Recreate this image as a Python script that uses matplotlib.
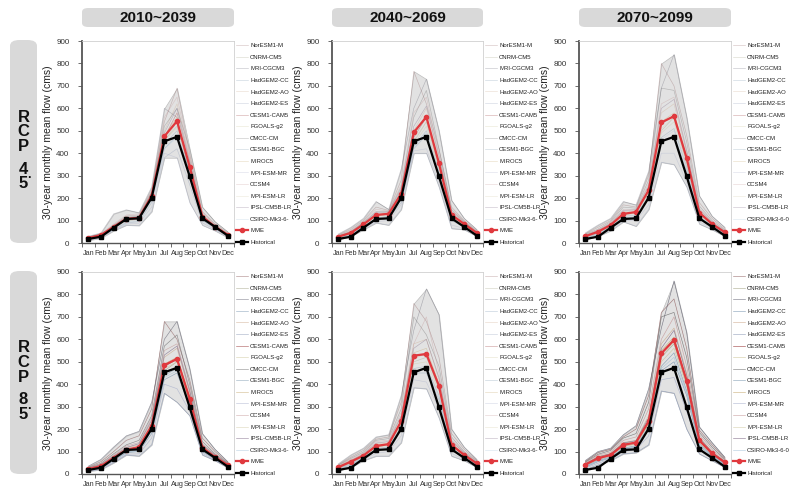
import numpy as np
import matplotlib
matplotlib.use('Agg')
import matplotlib.pyplot as plt
from matplotlib.patches import FancyBboxPatch

plt.rcParams['font.family'] = ['Liberation Sans', 'DejaVu Sans']

# %% data
months = ['Jan', 'Feb', 'Mar', 'Apr', 'May', 'Jun', 'Jul', 'Aug', 'Sep', 'Oct', 'Nov', 'Dec']
periods = ['2010~2039', '2040~2069', '2070~2099']
scenarios = ['4.5', '8.5']
gcm_names = ['NorESM1-M', 'CNRM-CM5', 'MRI-CGCM3', 'HadGEM2-CC', 'HadGEM2-AO', 'HadGEM2-ES',
             'CESM1-CAM5', 'FGOALS-g2', 'CMCC-CM', 'CESM1-BGC', 'MIROC5', 'MPI-ESM-MR',
             'CCSM4', 'MPI-ESM-LR', 'IPSL-CM5B-LR', 'CSIRO-Mk3-6-0']
# the CSIRO label is cut short in some panels of the original
gcm_label_cut = 'CSIRO-Mk3-6-'

historical = [18, 28, 68, 107, 110, 202, 453, 473, 297, 110, 72, 33]

mme_45_2010 = [22, 35, 72, 108, 112, 210, 475, 543, 340, 118, 72, 37]
mme_45_2040 = [28, 45, 83, 125, 130, 220, 493, 562, 355, 125, 85, 45]
mme_45_2070 = [30, 50, 80, 130, 138, 235, 537, 565, 378, 135, 85, 48]
mme_85_2010 = [22, 35, 72, 108, 120, 215, 485, 513, 335, 118, 75, 40]
mme_85_2040 = [30, 55, 82, 125, 133, 235, 527, 535, 393, 130, 85, 47]
mme_85_2070 = [42, 70, 85, 130, 140, 235, 537, 597, 415, 150, 92, 52]

# one row per GCM (same order as gcm_names), one column per month
gcm_45_2010 = [
    [25, 40, 80, 120, 125, 230, 540, 690, 400, 140, 85, 45],
    [18, 30, 65, 100, 105, 200, 460, 520, 330, 110, 70, 35],
    [30, 45, 130, 148, 135, 250, 600, 560, 300, 120, 75, 40],
    [15, 28, 60, 90, 95, 180, 420, 480, 320, 100, 65, 32],
    [22, 36, 75, 110, 115, 215, 500, 620, 380, 130, 80, 40],
    [12, 22, 55, 80, 78, 140, 380, 420, 260, 90, 60, 28],
    [24, 38, 70, 105, 110, 220, 470, 580, 360, 120, 72, 38],
    [20, 34, 68, 100, 108, 205, 450, 540, 350, 115, 70, 36],
    [26, 40, 78, 115, 120, 225, 520, 600, 420, 160, 95, 50],
    [19, 32, 66, 102, 104, 195, 440, 500, 310, 105, 68, 34],
    [23, 37, 72, 108, 112, 210, 480, 560, 340, 118, 72, 37],
    [14, 25, 58, 85, 88, 160, 400, 380, 180, 80, 55, 25],
    [27, 42, 85, 125, 130, 235, 560, 650, 390, 135, 82, 42],
    [21, 33, 70, 104, 106, 200, 460, 510, 330, 112, 70, 36],
    [28, 38, 75, 112, 118, 215, 490, 600, 370, 125, 76, 39],
    [16, 26, 62, 95, 98, 190, 420, 470, 290, 102, 64, 31]]

gcm_45_2040 = [
    [35, 60, 100, 160, 145, 280, 765, 620, 420, 160, 100, 55],
    [25, 40, 80, 120, 130, 210, 450, 540, 340, 120, 80, 42],
    [40, 70, 110, 185, 150, 330, 600, 730, 500, 190, 110, 60],
    [20, 35, 70, 100, 110, 180, 420, 480, 300, 100, 70, 36],
    [30, 48, 88, 130, 135, 230, 500, 600, 380, 135, 90, 48],
    [15, 30, 60, 90, 80, 150, 400, 400, 250, 65, 60, 30],
    [28, 44, 82, 125, 132, 220, 470, 560, 360, 125, 85, 45],
    [26, 42, 78, 118, 128, 205, 440, 520, 330, 115, 80, 43],
    [32, 52, 92, 140, 140, 250, 560, 680, 420, 150, 95, 50],
    [22, 38, 74, 110, 120, 195, 430, 500, 320, 110, 75, 40],
    [29, 46, 84, 126, 131, 225, 480, 570, 350, 128, 86, 46],
    [18, 32, 65, 95, 100, 170, 410, 420, 270, 80, 65, 33],
    [34, 55, 95, 150, 142, 260, 580, 650, 400, 145, 98, 52],
    [27, 43, 80, 120, 125, 210, 460, 540, 340, 120, 82, 44],
    [31, 50, 90, 135, 138, 240, 520, 610, 390, 140, 92, 49],
    [24, 36, 72, 105, 115, 190, 430, 490, 310, 105, 72, 38]]

gcm_45_2070 = [
    [40, 70, 100, 170, 160, 300, 800, 700, 480, 180, 110, 62],
    [28, 46, 78, 125, 135, 225, 500, 560, 360, 130, 82, 46],
    [45, 80, 110, 185, 170, 320, 690, 840, 560, 210, 120, 70],
    [22, 38, 68, 110, 115, 200, 450, 480, 320, 110, 72, 40],
    [33, 55, 85, 140, 145, 250, 580, 620, 400, 145, 90, 52],
    [15, 30, 55, 95, 75, 150, 360, 350, 250, 85, 60, 30],
    [30, 50, 80, 130, 138, 235, 530, 570, 380, 135, 85, 48],
    [27, 45, 76, 122, 132, 220, 490, 540, 350, 125, 80, 45],
    [38, 62, 95, 160, 155, 280, 690, 680, 450, 165, 100, 58],
    [25, 42, 72, 118, 125, 210, 470, 510, 340, 120, 76, 43],
    [31, 52, 82, 132, 140, 240, 540, 580, 385, 138, 86, 49],
    [18, 34, 60, 100, 100, 170, 400, 400, 270, 95, 65, 34],
    [36, 58, 90, 150, 150, 265, 620, 650, 420, 155, 95, 55],
    [29, 48, 78, 128, 135, 230, 510, 560, 370, 130, 84, 47],
    [34, 56, 88, 145, 148, 255, 600, 640, 410, 150, 92, 53],
    [24, 40, 70, 112, 120, 205, 460, 500, 330, 115, 74, 42]]

gcm_85_2010 = [
    [30, 55, 100, 150, 170, 290, 680, 600, 420, 160, 100, 50],
    [20, 32, 68, 105, 115, 205, 460, 500, 320, 112, 72, 38],
    [35, 65, 120, 170, 190, 320, 600, 680, 470, 180, 110, 55],
    [16, 26, 60, 95, 100, 180, 420, 450, 300, 100, 65, 34],
    [25, 40, 78, 115, 130, 230, 520, 560, 360, 125, 80, 43],
    [12, 20, 50, 85, 80, 130, 360, 320, 260, 85, 60, 28],
    [22, 36, 72, 108, 120, 215, 480, 510, 340, 118, 75, 40],
    [19, 31, 66, 102, 112, 200, 450, 480, 315, 108, 70, 37],
    [28, 48, 90, 130, 150, 260, 570, 620, 400, 145, 90, 48],
    [18, 29, 63, 98, 108, 195, 440, 470, 310, 105, 68, 36],
    [23, 37, 74, 110, 122, 220, 490, 520, 345, 120, 76, 41],
    [14, 23, 55, 88, 90, 160, 400, 380, 280, 92, 62, 30],
    [27, 45, 85, 125, 140, 250, 550, 580, 380, 135, 86, 46],
    [21, 34, 70, 106, 118, 210, 470, 500, 330, 115, 73, 39],
    [26, 42, 80, 118, 135, 240, 530, 570, 370, 130, 84, 45],
    [17, 28, 62, 96, 104, 190, 430, 460, 305, 102, 67, 35]]

gcm_85_2040 = [
    [40, 75, 105, 155, 165, 320, 760, 680, 520, 180, 110, 60],
    [28, 50, 80, 120, 130, 225, 500, 520, 380, 125, 82, 45],
    [45, 85, 115, 165, 175, 350, 640, 825, 710, 200, 120, 65],
    [22, 40, 70, 105, 115, 195, 450, 450, 330, 105, 72, 38],
    [34, 62, 88, 135, 140, 255, 580, 600, 420, 145, 92, 52],
    [15, 30, 60, 80, 80, 140, 385, 380, 250, 80, 60, 30],
    [30, 55, 82, 125, 133, 235, 530, 530, 390, 130, 85, 47],
    [27, 48, 78, 118, 128, 220, 490, 500, 370, 122, 80, 44],
    [38, 70, 98, 150, 158, 290, 700, 620, 480, 165, 100, 58],
    [25, 45, 74, 112, 122, 210, 470, 480, 350, 115, 76, 42],
    [31, 57, 84, 128, 136, 240, 540, 560, 400, 133, 87, 48],
    [18, 35, 65, 92, 100, 170, 420, 410, 290, 92, 65, 34],
    [36, 66, 94, 145, 150, 275, 580, 700, 450, 155, 97, 55],
    [29, 52, 80, 122, 130, 230, 510, 540, 385, 127, 84, 46],
    [33, 60, 90, 138, 145, 260, 560, 600, 430, 148, 94, 51],
    [24, 42, 72, 110, 118, 205, 460, 470, 340, 110, 74, 41]]

gcm_85_2070 = [
    [55, 95, 110, 165, 200, 350, 720, 780, 560, 195, 130, 70],
    [38, 65, 82, 125, 135, 225, 520, 580, 400, 145, 88, 50],
    [60, 100, 115, 175, 215, 380, 650, 860, 630, 210, 140, 75],
    [30, 55, 72, 110, 120, 200, 460, 500, 350, 125, 78, 42],
    [46, 78, 92, 140, 150, 260, 580, 650, 450, 165, 100, 58],
    [20, 40, 60, 90, 95, 130, 370, 360, 200, 90, 60, 30],
    [42, 70, 85, 130, 140, 235, 540, 600, 415, 150, 92, 52],
    [39, 66, 80, 122, 132, 220, 500, 560, 390, 142, 86, 49],
    [52, 88, 105, 160, 180, 320, 700, 720, 520, 185, 120, 65],
    [34, 60, 76, 115, 126, 210, 480, 540, 370, 135, 82, 46],
    [43, 72, 87, 133, 143, 240, 550, 610, 420, 152, 94, 53],
    [26, 48, 66, 100, 108, 170, 420, 430, 280, 108, 70, 37],
    [49, 84, 98, 150, 165, 290, 600, 700, 480, 175, 110, 62],
    [40, 68, 83, 128, 137, 230, 520, 590, 410, 148, 90, 51],
    [45, 76, 90, 138, 148, 250, 560, 640, 440, 160, 98, 56],
    [32, 58, 74, 112, 123, 205, 470, 520, 360, 130, 80, 44]]

gcm_colors = ['#8c5a5a', '#9a9a78', '#5a5a6a', '#6a8aa8', '#c8a080', '#8090b0',
              '#8b1a1a', '#c8c090', '#606060', '#7090a8', '#c0a060', '#a0a8c8',
              '#c09090', '#d0c8a0', '#705878', '#a0c0d8']

panels = [
    # row, col, mme, gcm table, line alpha, cut csiro label
    (0, 0, mme_45_2010, gcm_45_2010, 0.35, True),
    (0, 1, mme_45_2040, gcm_45_2040, 0.35, True),
    (0, 2, mme_45_2070, gcm_45_2070, 0.35, False),
    (1, 0, mme_85_2010, gcm_85_2010, 0.65, True),
    (1, 1, mme_85_2040, gcm_85_2040, 0.4, True),
    (1, 2, mme_85_2070, gcm_85_2070, 0.75, False),
]

# %% layout (pixels of a 803x496 image)
W, H = 803, 496
col_x = [(82, 234), (332, 483), (579, 731)]
row_y = [(41, 243), (272, 474)]

fig = plt.figure(figsize=(W / 100, H / 100), dpi=100)
fig.patch.set_facecolor('white')


def px_rect(x0, y0, x1, y1):
    return [x0 / W, 1 - y1 / H, (x1 - x0) / W, (y1 - y0) / H]


x = np.arange(1, 13)

for row, col, mme, table, alpha, cut in panels:
    ax = fig.add_axes(px_rect(col_x[col][0], row_y[row][0], col_x[col][1], row_y[row][1]))
    gcm = np.array(table)
    lo = gcm.min(axis=0)
    hi = gcm.max(axis=0)
    ax.fill_between(x, lo, hi, facecolor='#e2e2e2', lw=0.5,
                    edgecolor='#bdbdbd', zorder=1)
    for k in range(len(gcm_names)):
        lab = gcm_names[k]
        if cut and k == len(gcm_names) - 1:
            lab = gcm_label_cut
        ax.plot(x, gcm[k], color=gcm_colors[k], lw=0.45, alpha=alpha, label=lab, zorder=2)
    ax.plot(x, mme, color='#e0393e', lw=1.6, marker='o', ms=3, label='MME', zorder=4)
    ax.plot(x, historical, color='black', lw=1.6, marker='s', ms=3, label='Historical', zorder=5)

    ax.set_xlim(0.5, 12.5)
    ax.set_ylim(0, 900)
    ax.set_yticks(np.arange(0, 901, 100))
    ax.set_xticks(x)
    ax.set_xticklabels(months)
    ax.set_xticks(np.arange(0.5, 13, 1), minor=True)
    ax.tick_params(axis='x', which='major', length=0, labelsize=5.2, pad=5, colors='#333333')
    ax.tick_params(axis='x', which='minor', length=3, width=0.6, color='#555555')
    ax.tick_params(axis='y', length=3, width=0.6, labelsize=5.8, pad=6,
                   color='#555555', labelcolor='#333333')
    for s in ['top', 'right']:
        ax.spines[s].set_color('#d0d0d0')
        ax.spines[s].set_linewidth(0.6)
    ax.spines['left'].set_color('#555555')
    ax.spines['left'].set_linewidth(1.3)
    ax.spines['bottom'].set_color('#555555')
    ax.spines['bottom'].set_linewidth(1.0)
    ax.set_ylabel('30-year monthly mean flow (cms)', fontsize=7.5, labelpad=2, color='#222222')

    leg = ax.legend(loc='upper left', bbox_to_anchor=(1.0, 1.0), frameon=False, fontsize=4.3,
                    handlelength=2.0, handletextpad=0.35, labelspacing=1.07, borderaxespad=0.15,
                    borderpad=0.2)
    for t in leg.get_texts():
        t.set_color('#222222')

# %% header boxes
for col, per in enumerate(periods):
    x0, x1 = col_x[col]
    bx = FancyBboxPatch((x0 / W, 1 - 27 / H), (x1 - x0) / W, 19 / H,
                        boxstyle='round,pad=0,rounding_size=0.008',
                        transform=fig.transFigure, facecolor='#d9d9d9', edgecolor='none')
    fig.patches.append(bx)
    fig.text((x0 + x1) / 2 / W, 1 - 17.5 / H, per, ha='center', va='center',
             fontsize=11, fontweight='bold', color='#111111')

# %% left RCP boxes
for row, sc in enumerate(scenarios):
    y0, y1 = row_y[row]
    y0 = y0 - 1
    bx = FancyBboxPatch((10 / W, 1 - y1 / H), 27 / W, (y1 - y0) / H,
                        boxstyle='round,pad=0,rounding_size=0.012',
                        transform=fig.transFigure, facecolor='#d9d9d9', edgecolor='none')
    fig.patches.append(bx)
    top = y0 + 77
    letters = ['R', 'C', 'P']
    for i, ch in enumerate(letters):
        fig.text(23.5 / W, 1 - (top + i * 14.5) / H, ch, ha='center', va='center',
                 fontsize=12, fontweight='bold', color='#111111')
    a, b = sc.split('.')
    fig.text(23.5 / W, 1 - (top + 52) / H, a, ha='center', va='center', fontsize=12,
             fontweight='bold', color='#111111')
    fig.text(27.5 / W, 1 - (top + 58) / H, '.', ha='left', va='center', fontsize=9,
             fontweight='bold', color='#111111')
    fig.text(23.5 / W, 1 - (top + 66.5) / H, b, ha='center', va='center', fontsize=12,
             fontweight='bold', color='#111111')

fig.savefig('out.png', dpi=100)
